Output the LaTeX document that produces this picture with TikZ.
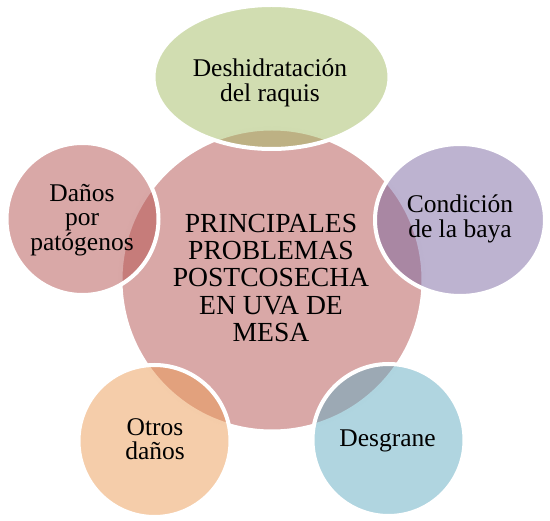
\documentclass[tikz,border=0pt]{standalone}
\usepackage{fontspec}
\setmainfont{Liberation Serif}
\usetikzlibrary{shapes.geometric}
\definecolor{cpink}{RGB}{179,81,79}
\definecolor{cgreen}{RGB}{163,187,99}
\definecolor{cpurple}{RGB}{123,103,161}
\definecolor{cblue}{RGB}{97,171,193}
\definecolor{corange}{RGB}{235,155,85}
\begin{document}
\begin{tikzpicture}[x=1pt,y=-1pt,
  blob/.style={draw=white, line width=4pt, fill opacity=0.5, inner sep=0pt, outer sep=0pt},
  circ/.style={blob, circle, minimum size=152pt},
  lbl/.style={align=center, font=\fontsize{25.5}{24.5}\selectfont, text=black, inner sep=0pt},
  ctrlbl/.style={align=center, font=\fontsize{27.6}{27.5}\selectfont, text=black, inner sep=0pt}]
\useasboundingbox (0,0) rectangle (550,521);
% central circle
\node[blob, circle, minimum size=303pt, fill=cpink] (center) at (272,280) {};
% satellites
\node[blob, ellipse, minimum width=236pt, minimum height=144pt, fill=cgreen] (top) at (271.5,77) {};
\node[blob, ellipse, minimum width=170pt, minimum height=152pt, fill=cpurple] (right) at (460,220) {};
\node[circ, fill=cblue] (bright) at (388.5,440) {};
\node[circ, fill=corange] (bleft) at (154.5,441) {};
\node[circ, fill=cpink] (left) at (82.5,219) {};
% labels
\node[ctrlbl] (tcenter) at (271,278) {PRINCIPALES\\PROBLEMAS\\POSTCOSECHA\\EN UVA DE\\MESA};
\node[lbl] (ttop) at (270,83) {Deshidratación\\del raquis};
\node[lbl] (tright) at (460,219) {Condición\\de la baya};
\node[lbl] (tbright) at (387.5,441) {Desgrane};
\node[lbl] (tbleft) at (155,439) {Otros\\daños};
\node[lbl] (tleft) at (82,220) {Daños\\por\\patógenos};
\end{tikzpicture}
\end{document}
